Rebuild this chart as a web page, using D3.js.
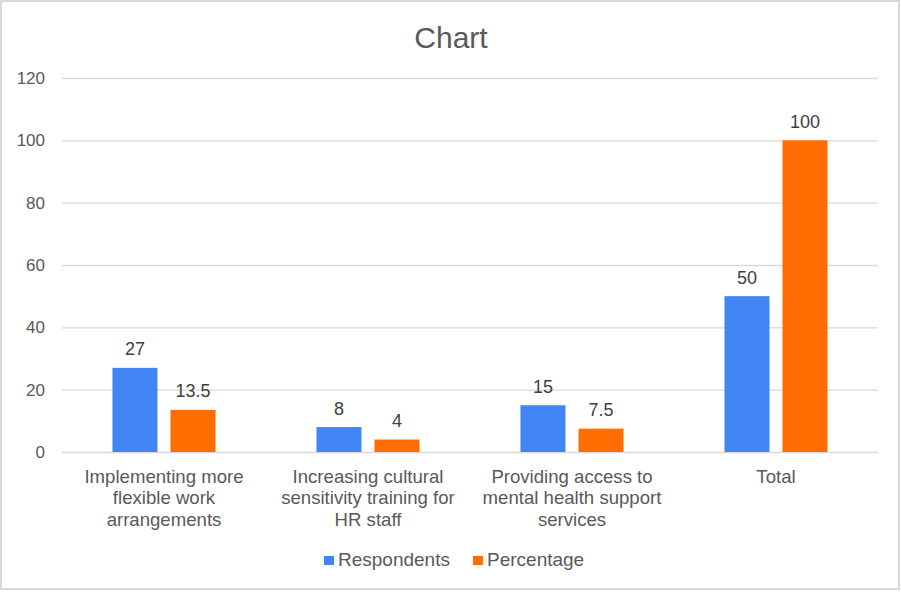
<!DOCTYPE html>
<html>
<head>
<meta charset="utf-8">
<script src="https://cdn.jsdelivr.net/npm/d3@7"></script>
<style>
  html, body { margin: 0; padding: 0; background: #fff; }
  svg { display: block; font-family: Arial, "Liberation Sans", sans-serif; }
</style>
</head>
<body>
<svg id="chart" width="901" height="592"></svg>
<script>
// Survey results per suggested improvement
const categories = [
  ["Implementing more", "flexible work", "arrangements"],
  ["Increasing cultural", "sensitivity training for", "HR staff"],
  ["Providing access to", "mental health support", "services"],
  ["Total"]
];
const seriesNames = ["Respondents", "Percentage"];
const respondents = [27, 8, 15, 50];
const percentage = [13.5, 4, 7.5, 100];
const yTicks = [0, 20, 40, 60, 80, 100, 120];
const colors = ["#4285F4", "#FF6D01"];

const svg = d3.select("#chart");
const W = 901, H = 592;
const plot = { left: 62, right: 878, top: 78, bottom: 452 };
const textColor = "#595959";

// outer frame
svg.append("rect")
  .attr("x", 1).attr("y", 1).attr("width", W - 3).attr("height", H - 4)
  .attr("fill", "#fff").attr("stroke", "#d9d9d9").attr("stroke-width", 2);

// title
svg.append("text")
  .attr("x", 451).attr("y", 48)
  .attr("text-anchor", "middle")
  .attr("font-size", 30).attr("fill", textColor)
  .text("Chart");

const y = d3.scaleLinear().domain([0, 120]).range([plot.bottom, plot.top]);
const keys = categories.map((c, i) => i);
const x0 = d3.scaleBand().domain(keys).range([plot.left, plot.right]);
const x1 = d3.scaleBand().domain([0, 1]).range([0, x0.bandwidth()])
  .paddingInner(0.224).paddingOuter(0.87);

// gridlines + y tick labels
const yAxis = d3.axisLeft(y).tickValues(yTicks)
  .tickSize(-(plot.right - plot.left)).tickPadding(17);
const gy = svg.append("g").attr("transform", `translate(${plot.left},0)`).call(yAxis);
gy.select(".domain").remove();
gy.selectAll(".tick line").attr("stroke", "#d9d9d9").attr("stroke-width", 1.3);
gy.selectAll(".tick text")
  .attr("fill", textColor).attr("font-size", 17)
  .attr("font-family", "Arial, 'Liberation Sans', sans-serif");

// bars
const series = [respondents, percentage];
const groups = svg.append("g").selectAll("g")
  .data(keys).join("g")
  .attr("transform", i => `translate(${x0(i)},0)`);

groups.selectAll("rect")
  .data(i => series.map((s, k) => ({ k, v: s[i] })))
  .join("rect")
  .attr("x", d => x1(d.k))
  .attr("width", x1.bandwidth())
  .attr("y", d => y(d.v))
  .attr("height", d => y(0) - y(d.v))
  .attr("fill", d => colors[d.k]);

// value labels
groups.selectAll("text.val")
  .data(i => series.map((s, k) => ({ k, v: s[i] })))
  .join("text")
  .attr("class", "val")
  .attr("x", d => x1(d.k) + x1.bandwidth() / 2)
  .attr("y", d => y(d.v) - 12.5)
  .attr("text-anchor", "middle")
  .attr("font-size", 18).attr("fill", "#404040")
  .text(d => d.v);

// category labels
const cat = svg.append("g").selectAll("text")
  .data(keys).join("text")
  .attr("x", i => x0(i) + x0.bandwidth() / 2)
  .attr("y", 482.5)
  .attr("text-anchor", "middle")
  .attr("font-size", 18.6).attr("fill", textColor);
cat.selectAll("tspan")
  .data(i => categories[i])
  .join("tspan")
  .attr("x", function () { return d3.select(this.parentNode).attr("x"); })
  .attr("dy", (d, j) => j === 0 ? 0 : 21.7)
  .text(d => d);

// legend
const legendItems = [
  { name: seriesNames[0], color: colors[0], x: 324 },
  { name: seriesNames[1], color: colors[1], x: 473 }
];
const lg = svg.append("g").selectAll("g")
  .data(legendItems).join("g")
  .attr("transform", d => `translate(${d.x},0)`);
lg.append("rect").attr("x", 0).attr("y", 556).attr("width", 10).attr("height", 9)
  .attr("fill", d => d.color);
lg.append("text").attr("x", 14).attr("y", 565.5)
  .attr("font-size", 19).attr("fill", textColor)
  .text(d => d.name);
</script>
</body>
</html>
